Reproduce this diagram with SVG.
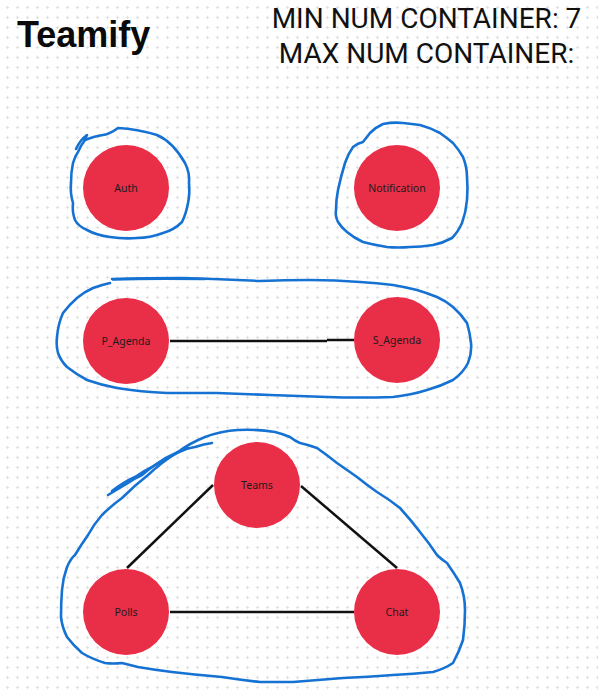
<svg xmlns="http://www.w3.org/2000/svg" width="598" height="691" viewBox="0 0 598 691">
<style>
.node{fill:#E92E48}
.lbl{font-family:"Noto Sans","DejaVu Sans",sans-serif;font-size:10.5px;fill:#1c1c1c;text-anchor:middle}
.edge{stroke:#111;stroke-width:2.5;fill:none}
.ink{stroke:#1572D3;stroke-width:2.6;fill:none;stroke-linecap:round;stroke-linejoin:round}
.hdr{font-family:Roboto,"Liberation Sans",sans-serif;font-size:28px;fill:#111;text-anchor:middle}
</style>
<defs>
<pattern id="grid" x="0" y="0" width="10" height="10" patternUnits="userSpaceOnUse">
<path d="M5.8 7.5h3.4M7.5 5.8v3.4" stroke="#e0e0e0" stroke-width="1"/>
</pattern>
</defs>
<rect width="598" height="691" fill="#fff"/>
<rect width="598" height="691" fill="url(#grid)"/>

<g id="title">
<text x="17" y="47" font-family="'Liberation Sans',Arial,sans-serif" font-weight="bold" font-size="36" fill="#0a0a0a">Teamify</text>
</g>
<g id="header">
<text class="hdr" x="426.5" y="28">MIN NUM CONTAINER: 7</text>
<text class="hdr" x="426.5" y="63">MAX NUM CONTAINER:</text>
</g>

<g id="outlines">
<path id="outline-auth" class="ink" d="M76 149 Q80 140 87 135 Q84 140 85 140 Q95 136 103 135 Q110 134 118 128 Q137 129 157 135 Q173 142 185 163 Q190 173 189 183 Q190 194 188 203 Q186 214 182 222 Q174 230 163 233 Q150 238 137 238 Q123 239 110 237 Q96 235 87 230 Q78 226 75 220 Q72 212 73 203 Q70 193 71 183 Q71 172 73 163 Q75 156 78 152 Q81 145 85 140"/>
<path id="outline-notification" class="ink" d="M383 124 Q393 122 403 123 Q412 124 420 125 Q431 128 440 133 Q447 138 453 143 Q459 150 463 157 Q467 167 467 177 Q468 188 467 200 Q466 212 462 223 Q458 232 452 238 Q443 243 433 245 Q421 247 410 247 Q398 248 387 247 Q374 245 363 242 Q354 238 347 232 Q341 227 338 222 Q335 216 336 210 Q336 200 338 190 Q341 176 345 163 Q348 154 353 147 Q358 143 363 142 Q366 138 370 133 Q376 127 383 124 Z"/>
<path id="outline-agenda" class="ink" d="M110 283 Q101 285 93 288 Q84 292 77 298 Q69 305 63 313 Q58 324 57 337 Q56 346 58 353 Q61 361 67 367 Q76 374 87 380 Q101 385 117 388 Q141 392 167 393 Q192 393 217 393 Q244 394 270 395 Q298 396 327 397 Q360 398 393 397 Q411 395 427 390 Q441 386 453 380 Q463 373 468 363 Q472 353 471 343 Q470 333 467 323 Q461 314 453 307 Q446 301 437 297 Q427 293 417 290 Q405 287 393 285 Q377 283 360 282 Q335 280 310 280 Q285 280 260 281 Q222 279 183 278 Q147 278 112 279"/>
<path class="ink" stroke-width="4" d="M113 279.5 Q150 278 205 279"/>
<path id="outline-teams" class="ink" d="M75 555 Q81 545 88 535 Q94 524 102 515 Q111 506 122 498 Q134 486 148 475 Q162 462 178 452 Q190 443 205 437 Q221 431 238 430 Q257 429 275 432 Q283 434 290 437 Q295 441 300 443 Q309 445 317 448 Q327 455 337 463 Q347 470 357 477 Q367 485 377 492 Q390 500 400 508 Q411 520 420 532 Q429 543 437 555 Q441 559 447 563 Q454 573 460 583 Q465 596 465 610 Q465 625 463 640 Q459 652 453 663 Q444 669 433 672 Q413 674 393 675 Q368 677 343 678 Q318 680 293 682 Q276 682 260 682 Q241 680 222 677 Q197 675 172 672 Q155 670 138 667 Q130 665 122 663 Q113 664 105 663 Q92 659 82 653 Q73 645 67 637 Q62 627 61 617 Q61 603 62 590 Q63 578 67 567 Q71 558 75 555"/>
<path class="ink" d="M108 495 Q118 489 128 483 Q135 478 142 475 Q149 469 155 465 Q166 457 178 452 Q187 448 195 447 Q204 444 212 443"/>
<path class="ink" d="M112 491 Q124 482 135 477 Q144 471 152 467 Q160 462 168 458 Q178 452 188 448"/>
</g>

<g id="connectors">
<path class="edge" d="M170 341 H327 M327 340 H354"/>
<line class="edge" x1="213" y1="485" x2="127" y2="568"/>
<line class="edge" x1="301" y1="486" x2="397" y2="568"/>
<line class="edge" x1="170" y1="612" x2="354" y2="612"/>
</g>

<g id="auth"><circle class="node" cx="126" cy="188" r="43"/><text class="lbl" x="126" y="192">Auth</text></g>
<g id="notification"><circle class="node" cx="397" cy="188" r="43"/><text class="lbl" x="397" y="192">Notification</text></g>
<g id="p_agenda"><circle class="node" cx="126" cy="341" r="43"/><text class="lbl" x="126" y="345">P_Agenda</text></g>
<g id="s_agenda"><circle class="node" cx="397" cy="340" r="43"/><text class="lbl" x="397" y="344">S_Agenda</text></g>
<g id="teams"><circle class="node" cx="257" cy="485" r="43"/><text class="lbl" x="257" y="489">Teams</text></g>
<g id="polls"><circle class="node" cx="126" cy="612" r="43"/><text class="lbl" x="126" y="616">Polls</text></g>
<g id="chat"><circle class="node" cx="397" cy="612" r="43"/><text class="lbl" x="397" y="616">Chat</text></g>
</svg>
